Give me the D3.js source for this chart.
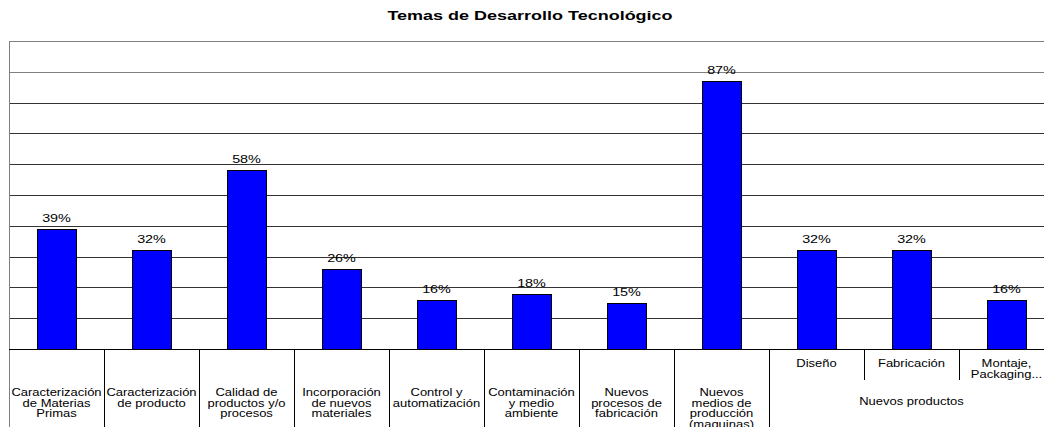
<!DOCTYPE html>
<html>
<head>
<meta charset="utf-8">
<script src="https://cdn.jsdelivr.net/npm/d3@7"></script>
<style>
  body { margin: 0; background: #fff; }
  text { font-family: "Liberation Sans", Arial, sans-serif; fill: #000; }
</style>
</head>
<body>
<script>
// DATA
var categories = ["Caracterización de Materias Primas", "Caracterización de producto",
    "Calidad de productos y/o procesos", "Incorporación de nuevos materiales",
    "Control y automatización", "Contaminación y medio ambiente",
    "Nuevos procesos de fabricación", "Nuevos medios de producción (maquinas)",
    "Diseño", "Fabricación", "Montaje, Packaging..."];
var labelLines = [
    ["Caracterización", "de Materias", "Primas"],
    ["Caracterización", "de producto"],
    ["Calidad de", "productos y/o", "procesos"],
    ["Incorporación", "de nuevos", "materiales"],
    ["Control y", "automatización"],
    ["Contaminación", "y medio", "ambiente"],
    ["Nuevos", "procesos de", "fabricación"],
    ["Nuevos", "medios de", "producción", "(maquinas)"],
    ["Diseño"],
    ["Fabricación"],
    ["Montaje,", "Packaging..."]
];
var values = [39, 32, 58, 26, 16, 18, 15, 87, 32, 32, 16];
var groupName = "Nuevos productos";
var groupMembers = ["Diseño", "Fabricación", "Montaje, Packaging..."];
var gridTicks = [0, 10, 20, 30, 40, 50, 60, 70, 80, 90, 100];
var title = "Temas de Desarrollo Tecnológico";

var W = 1044, H = 427;
var margin = { top: 41, right: 1054, bottom: 349, left: 9 };

var svg = d3.select("body").append("svg")
    .attr("width", W)
    .attr("height", H);

var x = d3.scaleBand()
    .domain(categories)
    .range([margin.left, margin.right])
    .padding(0);

var y = d3.scaleLinear()
    .domain([0, 100])
    .range([margin.bottom, margin.top]);

// the original text is stretched horizontally
function stretchedText(sel, px, py, str, size, sx, weight) {
    sel.append("g")
        .attr("transform", "translate(" + px + "," + py + ") scale(" + sx + ",1)")
        .append("text")
        .attr("text-anchor", "middle")
        .style("font-size", size + "px")
        .style("font-weight", weight || "normal")
        .text(str);
}

// title
stretchedText(svg, 530, 20, title, 12.5, 1.44, "bold");

// gridlines
svg.append("g")
    .selectAll("line")
    .data(gridTicks)
    .enter()
    .append("line")
    .attr("x1", margin.left)
    .attr("x2", margin.right)
    .attr("y1", d => Math.round(y(d)) + 0.5)
    .attr("y2", d => Math.round(y(d)) + 0.5)
    .attr("stroke", d => d >= 90 ? "#808080" : "#333")
    .attr("stroke-width", 1);

// left border
svg.append("line")
    .attr("x1", margin.left + 0.5).attr("x2", margin.left + 0.5)
    .attr("y1", margin.top).attr("y2", H)
    .attr("stroke", "#808080");

// bars
var bw = x.bandwidth() * 0.41;
svg.selectAll(".bar")
    .data(values)
    .enter()
    .append("rect")
    .attr("class", "bar")
    .attr("x", (d, i) => Math.round(x(categories[i]) + (x.bandwidth() - bw) / 2) + 0.5)
    .attr("y", d => Math.round(y(d)) + 0.5)
    .attr("width", Math.round(bw))
    .attr("height", d => Math.round(y(0)) - Math.round(y(d)))
    .attr("fill", "#0000ff")
    .attr("stroke", "#000")
    .attr("stroke-width", 1);

// value labels
values.forEach(function (v, i) {
    stretchedText(svg, x(categories[i]) + x.bandwidth() / 2, y(v) - 7, v + "%", 11.5, 1.25);
});

// axis line
svg.append("line")
    .attr("x1", margin.left).attr("x2", margin.right)
    .attr("y1", margin.bottom + 0.5).attr("y2", margin.bottom + 0.5)
    .attr("stroke", "#000");

// category separators
categories.forEach(function (c, i) {
    if (i === 0) return;
    var inGroup = groupMembers.indexOf(c) > 0;
    var xx = Math.round(x(c)) + 0.5;
    svg.append("line")
        .attr("x1", xx).attr("x2", xx)
        .attr("y1", margin.bottom)
        .attr("y2", inGroup ? 380 : H)
        .attr("stroke", "#000");
});

// category labels
categories.forEach(function (c, i) {
    var cx = x(c) + x.bandwidth() / 2;
    var inGroup = groupMembers.indexOf(c) >= 0;
    var y0 = inGroup ? 367 : 396;
    labelLines[i].forEach(function (line, k) {
        stretchedText(svg, cx, y0 + k * 10.7, line, 10, 1.3);
    });
});

// group label
var gx = (x(groupMembers[0]) + x(groupMembers[groupMembers.length - 1]) + x.bandwidth()) / 2;
stretchedText(svg, gx, 405, groupName, 10, 1.3);
</script>
</body>
</html>
